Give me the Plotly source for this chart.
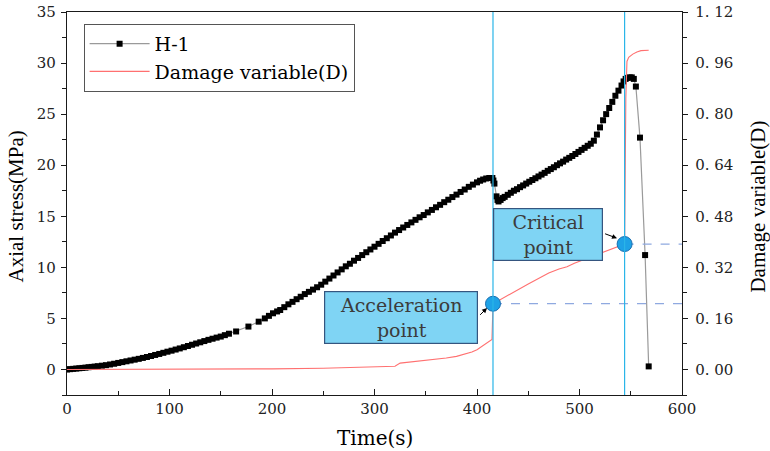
import plotly.graph_objects as go

# ---------------- data ----------------
time_h1 = [0, 3, 6, 9, 12, 15, 18, 21, 24, 27, 30, 34, 38, 42, 46, 50, 54, 58, 62, 66,
           70, 74, 78, 82, 86, 90, 94, 98, 102, 106, 110, 114, 118, 122, 126, 130, 134, 138, 142, 146,
           150, 154, 158, 165, 177, 187, 193, 197, 201, 205, 208, 212, 216, 220, 224, 228, 232, 236, 240, 244,
           248, 252, 256, 260, 264, 268, 272, 276, 280, 284, 288, 292, 296, 300, 304, 308, 312, 316, 320, 324,
           328, 332, 336, 340, 344, 348, 352, 356, 360, 364, 368, 372, 376, 380, 384, 388, 392, 396, 400, 403,
           406, 409, 412, 415, 416, 417, 419, 420, 421, 423, 425, 427, 430, 433, 436, 439, 442, 445, 448, 451,
           454, 457, 460, 463, 466, 469, 472, 475, 478, 481, 484, 487, 490, 493, 496, 499, 502, 505, 508, 511,
           514, 517, 520, 523, 526, 529, 532, 535, 538, 541, 543, 545, 547, 549, 551, 553, 555, 559, 564, 567.5]
stress_h1 = [0.0, 0.03, 0.06, 0.09, 0.12, 0.15, 0.18, 0.22, 0.25, 0.28, 0.32, 0.37, 0.42, 0.49, 0.56, 0.64, 0.72, 0.80, 0.88, 0.96,
             1.04, 1.13, 1.22, 1.32, 1.42, 1.52, 1.63, 1.74, 1.84, 1.95, 2.06, 2.18, 2.30, 2.42, 2.54, 2.66, 2.78, 2.90, 3.01, 3.12,
             3.22, 3.36, 3.50, 3.72, 4.20, 4.68, 5.00, 5.25, 5.50, 5.68, 5.82, 6.10, 6.38, 6.62, 6.88, 7.12, 7.38, 7.60, 7.82, 8.05,
             8.30, 8.60, 8.90, 9.20, 9.50, 9.80, 10.10, 10.35, 10.65, 10.92, 11.20, 11.48, 11.75, 12.02, 12.30, 12.58, 12.85, 13.12, 13.40, 13.65,
             13.90, 14.15, 14.40, 14.65, 14.90, 15.12, 15.38, 15.62, 15.88, 16.12, 16.38, 16.62, 16.88, 17.12, 17.38, 17.62, 17.88, 18.10, 18.32, 18.48,
             18.60, 18.70, 18.75, 18.75, 18.50, 18.20, 16.95, 16.60, 16.45, 16.60, 16.78, 16.90, 17.10, 17.30, 17.50, 17.65, 17.85, 18.02, 18.20, 18.38,
             18.55, 18.72, 18.90, 19.08, 19.25, 19.45, 19.62, 19.80, 20.00, 20.18, 20.35, 20.55, 20.72, 20.90, 21.10, 21.30, 21.50, 21.70, 21.90, 22.10,
             22.40, 23.00, 23.70, 24.40, 25.00, 25.60, 26.20, 26.80, 27.30, 27.80, 28.20, 28.45, 28.55, 28.60, 28.60, 28.45, 27.70, 22.70, 11.20, 0.30]

time_d = [0, 50, 100, 150, 200, 250, 300, 320, 325, 340,
          355, 370, 380, 387, 395, 400, 405, 410, 414.6, 415.6,
          420, 430, 439, 450, 460, 470, 480, 487.8, 495, 505,
          512, 520, 528, 535, 540, 544, 545.2, 546.3, 548, 552,
          556, 560, 567.5]
damage_d = [0, 0, 0, 0.001, 0.002, 0.004, 0.007, 0.01, 0.02, 0.025,
            0.03, 0.036, 0.041, 0.047, 0.055, 0.062, 0.073, 0.083, 0.094, 0.206,
            0.214, 0.234, 0.25, 0.268, 0.285, 0.302, 0.315, 0.322, 0.333, 0.345,
            0.353, 0.364, 0.372, 0.38, 0.386, 0.393, 0.85, 0.965, 0.978, 0.988,
            0.995, 0.999, 1.0]

event_time = [415.6, 544]
event_damage = [0.206, 0.393]
event_labels = ["Acceleration<br>point", "Critical<br>point"]

left_ticks = [0, 5, 10, 15, 20, 25, 30, 35]
right_ticks = [0, 0.16, 0.32, 0.48, 0.64, 0.80, 0.96, 1.12]
right_ticktext = ["0. 00", "0. 16", "0. 32", "0. 48", "0. 64", "0. 80", "0. 96", "1. 12"]
x_ticks = [0, 100, 200, 300, 400, 500, 600]

assert len(time_h1) == len(stress_h1), (len(time_h1), len(stress_h1))
assert len(time_d) == len(damage_d)

# ---------------- styles ----------------
SERIF_H = "DejaVu Serif"
SERIF_V = "Liberation Serif"
AX = "#1a1a1a"

fig = go.Figure()

fig.add_trace(go.Scatter(
    x=time_h1, y=stress_h1, name="H-1", mode="lines+markers",
    line=dict(color="#9a9a9a", width=1.2),
    marker=dict(symbol="square", size=6, color="black"),
    yaxis="y"))

fig.add_trace(go.Scatter(
    x=time_d, y=damage_d, name="Damage variable(D)", mode="lines",
    line=dict(color="#ff7070", width=1.1), yaxis="y2"))

# dashed guide lines from event points to the right axis
for t, d in zip(event_time, event_damage):
    fig.add_trace(go.Scatter(
        x=[t, 600], y=[d, d], mode="lines", showlegend=False,
        line=dict(color="#8fa9e0", width=1.3, dash="dash"), yaxis="y2", hoverinfo="skip"))

# vertical event lines
for t in event_time:
    fig.add_shape(type="line", x0=t, x1=t, y0=0, y1=1, xref="x", yref="paper",
                  line=dict(color="#2ab5e8", width=1.2))

# event markers
fig.add_trace(go.Scatter(
    x=event_time, y=event_damage, mode="markers", showlegend=False, yaxis="y2",
    marker=dict(symbol="circle", size=15, color="#1ea2e6", line=dict(color="#1a6fb0", width=1))))

# label boxes
box_pos = [(326, 5.13, 150, 49), (469.4, 13.2, 106, 49)]
for (bx, by, bw, bh), lab in zip(box_pos, event_labels):
    fig.add_annotation(x=bx, y=by, xref="x", yref="y", text=lab, showarrow=False,
                       xanchor="center", yanchor="middle",
                       font=dict(family=SERIF_H, size=19, color="#3c3c3c"),
                       bgcolor="#7fd4f4", bordercolor="#35557f", borderwidth=1.2,
                       borderpad=1, width=bw, height=bh, align="center")

# small arrows from boxes to points
arrows = [((401.6, 5.2), (409.8, 6.02)), ((523.5, 13.34), (536.6, 12.85))]
for (tx, ty), (hx, hy) in arrows:
    fig.add_annotation(x=hx, y=hy, ax=tx, ay=ty, xref="x", yref="y", axref="x", ayref="y",
                       text="", showarrow=True, arrowhead=2, arrowsize=1, arrowwidth=1,
                       arrowcolor="black", standoff=0, startstandoff=0)

# axis titles
fig.add_annotation(x=-0.083, y=0.492, xref="paper", yref="paper", text="Axial stress(MPa)",
                   xanchor="center", yanchor="middle",
                   textangle=-90, showarrow=False, font=dict(family=SERIF_V, size=21, color="black"))
fig.add_annotation(x=1.1236, y=0.492, xref="paper", yref="paper", text="Damage variable(D)",
                   xanchor="center", yanchor="middle",
                   textangle=-90, showarrow=False, font=dict(family=SERIF_V, size=21, color="black"))
fig.add_annotation(x=0.5008, y=-0.112, xref="paper", yref="paper", text="Time(s)",
                   xanchor="center", yanchor="middle",
                   showarrow=False, font=dict(family=SERIF_H, size=20, color="black"))

fig.update_layout(
    width=770, height=451,
    margin=dict(l=67, r=88, t=12, b=56, autoexpand=False),
    paper_bgcolor="white", plot_bgcolor="white",
    showlegend=True,
    legend=dict(x=0.027, y=0.969, xanchor="left", yanchor="top",
                bordercolor="#555555", borderwidth=1, bgcolor="white",
                font=dict(family=SERIF_H, size=19, color="black"),
                itemwidth=60, tracegroupgap=0),
    xaxis=dict(range=[0, 600], tickvals=x_ticks, ticks="inside", ticklen=6, tickwidth=1.2,
               tickcolor=AX, showline=True, linecolor=AX, linewidth=1.4, mirror=True,
               showgrid=False, zeroline=False, automargin=False,
               minor=dict(dtick=50, tick0=0, ticks="inside", ticklen=4, tickcolor=AX, showgrid=False),
               tickfont=dict(family=SERIF_H, size=15, color="#222")),
    yaxis=dict(range=[-2.5, 35], tickvals=left_ticks, ticks="outside", ticklen=5, tickwidth=1.2,
               tickcolor=AX, showline=True, linecolor=AX, linewidth=1.4,
               showgrid=False, zeroline=False, ticklabelstandoff=2, automargin=False,
               minor=dict(dtick=2.5, tick0=0, ticks="outside", ticklen=4, tickcolor=AX, showgrid=False),
               tickfont=dict(family=SERIF_H, size=15, color="#222")),
    yaxis2=dict(range=[-0.08, 1.12], overlaying="y", side="right", tickvals=right_ticks,
                ticktext=right_ticktext, ticks="outside", ticklen=5, tickwidth=1.2,
                tickcolor=AX, showline=True, linecolor=AX, linewidth=1.4,
                showgrid=False, zeroline=False, ticklabelstandoff=4, automargin=False,
                minor=dict(dtick=0.08, tick0=0, ticks="outside", ticklen=4, tickcolor=AX, showgrid=False),
                tickfont=dict(family=SERIF_H, size=15, color="#222")),
)

fig.write_html("out.html")
